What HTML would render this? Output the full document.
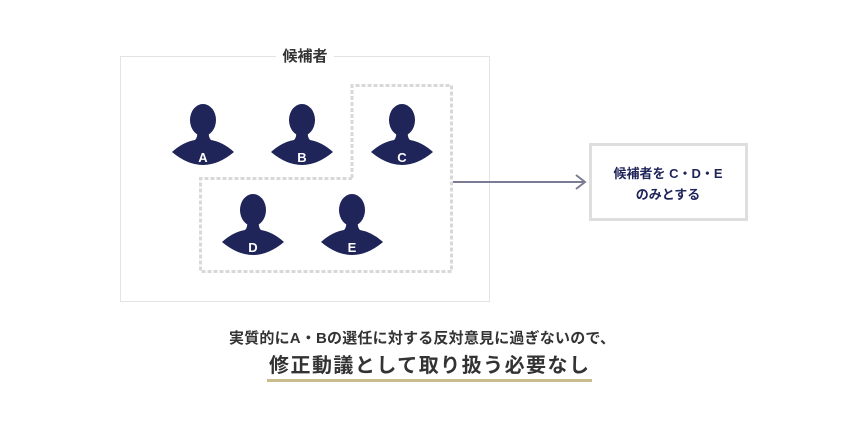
<!DOCTYPE html>
<html><head><meta charset="utf-8"><style>
body{margin:0;background:#fff;}
</style></head><body>
<svg width="860" height="430" xmlns="http://www.w3.org/2000/svg" style="display:block;font-family:'Liberation Sans','Noto Sans CJK JP',sans-serif">
<defs>
<g id="p">
<ellipse cx="0" cy="15" rx="13" ry="16" fill="#1f2459"/>
<path d="M-31 47 Q-20 37 -8 35 Q-5 32 -6 26 L6 26 Q5 32 8 35 Q20 37 31 47 Q0 73 -31 47 Z" fill="#1f2459"/>
</g>
</defs>
<rect x="120.5" y="56.5" width="369" height="245" fill="none" stroke="#e3e3e3" stroke-width="1"/>
<rect x="276" y="46" width="58" height="20" fill="#fff"/>
<text x="305" y="61" text-anchor="middle" font-size="15" font-weight="bold" fill="#333">候補者</text>
<path d="M352 178 V85.5 H451.5 V271.5 H200.5 V178.5 H352" fill="none" stroke="#d8d8d8" stroke-width="3" stroke-dasharray="4 2"/>
<g fill="#fff" font-size="13" font-weight="bold" text-anchor="middle">
<use href="#p" x="203" y="105"/><text x="203" y="162">A</text>
<use href="#p" x="302" y="105"/><text x="302" y="162">B</text>
<use href="#p" x="402" y="105"/><text x="402" y="162">C</text>
<use href="#p" x="253" y="195"/><text x="253" y="252">D</text>
<use href="#p" x="352" y="195"/><text x="352" y="252">E</text>
</g>
<line x1="453" y1="182" x2="584" y2="182" stroke="#7b7b95" stroke-width="2"/>
<path d="M576 175 L585 182 L576 189" fill="none" stroke="#7b7b95" stroke-width="2"/>
<rect x="590.5" y="144.5" width="156" height="75" fill="#fff" stroke="#dedede" stroke-width="3"/>
<text x="668" y="178" text-anchor="middle" font-size="13" font-weight="bold" fill="#1f2459">候補者を C・D・E</text>
<text x="668" y="199" text-anchor="middle" font-size="13" font-weight="bold" fill="#1f2459">のみとする</text>
<text x="422" y="343" text-anchor="middle" font-size="15" font-weight="bold" fill="#333" textLength="386">実質的にA・Bの選任に対する反対意見に過ぎないので、</text>
<text x="429" y="372" text-anchor="middle" font-size="20" font-weight="bold" fill="#333" textLength="320">修正動議として取り扱う必要なし</text>
<rect x="267" y="379" width="325" height="3" fill="#c9bd90"/>
</svg>
</body></html>
